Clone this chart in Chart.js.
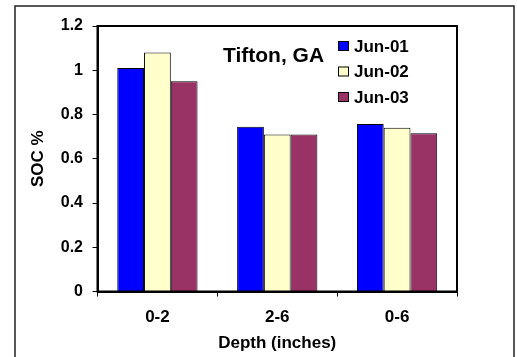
<!DOCTYPE html>
<html>
<head>
<meta charset="utf-8">
<title>SOC % - Tifton, GA</title>
<script src="https://cdn.jsdelivr.net/npm/chart.js@4.4.1/dist/chart.umd.min.js"></script>
<style>
    html, body { margin: 0; padding: 0; background: #fff; }
    #wrap { position: relative; width: 517px; height: 357px; }
</style>
</head>
<body>
<div id="wrap"><canvas id="chart" width="517" height="357"></canvas></div>
<script>
// datos
const depths = ['0-2', '2-6', '0-6'];
const jun01 = [1.01, 0.745, 0.757];
const jun02 = [1.08, 0.71, 0.74];
const jun03 = [0.95, 0.71, 0.715];
const seriesNames = ['Jun-01', 'Jun-02', 'Jun-03'];
const seriesColors = ['#0000FF', '#FFFFCC', '#993366'];
const chartTitle = 'Tifton, GA';
const yTitle = 'SOC %';
const xTitle = 'Depth (inches)';

const FONT = 'Arial, "Liberation Sans", sans-serif';

// marco exterior + borde del area de trazado
const framePlugin = {
    id: 'frame',
    afterDraw(chart) {
        const ctx = chart.ctx;
        const a = chart.chartArea;
        ctx.save();
        ctx.strokeStyle = '#000';
        ctx.lineWidth = 2;
        ctx.strokeRect(a.left, a.top, a.right - a.left, a.bottom - a.top);

        ctx.strokeStyle = '#222';
        ctx.lineWidth = 1.5;
        ctx.beginPath();
        ctx.moveTo(15, 360);
        ctx.lineTo(15, 6);
        ctx.lineTo(514, 6);
        ctx.lineTo(514, 360);
        ctx.stroke();
        ctx.restore();
    }
};

// titulo y leyenda dentro del area
const insideLegend = {
    id: 'insideLegend',
    afterDraw(chart) {
        const ctx = chart.ctx;
        ctx.save();
        ctx.fillStyle = '#000';
        ctx.font = 'bold 21px ' + FONT;
        ctx.textBaseline = 'alphabetic';
        ctx.textAlign = 'left';
        ctx.fillText(chartTitle, 223, 62);

        ctx.font = 'bold 17px ' + FONT;
        chart.data.datasets.forEach((ds, i) => {
            const cy = 46 + i * 25.5;
            ctx.fillStyle = ds.backgroundColor;
            ctx.fillRect(338, cy - 5, 11, 10);
            ctx.strokeStyle = '#000';
            ctx.lineWidth = 1;
            ctx.strokeRect(338.5, cy - 4.5, 10, 9);
            ctx.fillStyle = '#000';
            ctx.textBaseline = 'middle';
            ctx.fillText(ds.label, 354, cy + 1);
        });
        ctx.restore();
    }
};

const values = [jun01, jun02, jun03];

new Chart(document.getElementById('chart'), {
    type: 'bar',
    data: {
        labels: depths,
        datasets: values.map((v, i) => ({
            label: seriesNames[i],
            data: v,
            backgroundColor: seriesColors[i],
            borderColor: '#000',
            borderWidth: 1,
            categoryPercentage: 0.67,
            barPercentage: 1
        }))
    },
    options: {
        responsive: false,
        animation: false,
        layout: {
            padding: { left: 0, top: 26, right: 60, bottom: 0 }
        },
        plugins: {
            legend: { display: false },
            title: { display: false },
            tooltip: { enabled: false }
        },
        scales: {
            y: {
                min: 0,
                max: 1.2,
                afterFit: (s) => { s.width = 97.5; },
                ticks: {
                    stepSize: 0.2,
                    color: '#000',
                    padding: 9.5,
                    callback: (v) => String(+v.toFixed(1)),
                    font: { family: FONT, size: 16, weight: 'bold' }
                },
                grid: {
                    drawOnChartArea: false,
                    drawTicks: true,
                    tickLength: 5,
                    color: '#000'
                },
                border: { display: true, color: '#000', width: 2 },
                title: {
                    display: true,
                    text: yTitle,
                    color: '#000',
                    padding: { top: 28, bottom: 0 },
                    font: { family: FONT, size: 17, weight: 'bold' }
                }
            },
            x: {
                afterFit: (s) => { s.height = 65.5; },
                ticks: {
                    color: '#000',
                    padding: 11,
                    font: { family: FONT, size: 17, weight: 'bold' }
                },
                grid: {
                    offset: true,
                    drawOnChartArea: false,
                    drawTicks: true,
                    tickLength: 5,
                    color: '#000'
                },
                border: { display: true, color: '#000', width: 2 },
                title: {
                    display: true,
                    text: xTitle,
                    color: '#000',
                    padding: { top: 0, bottom: 3 },
                    font: { family: FONT, size: 17, weight: 'bold' }
                }
            }
        }
    },
    plugins: [framePlugin, insideLegend]
});
</script>
</body>
</html>
